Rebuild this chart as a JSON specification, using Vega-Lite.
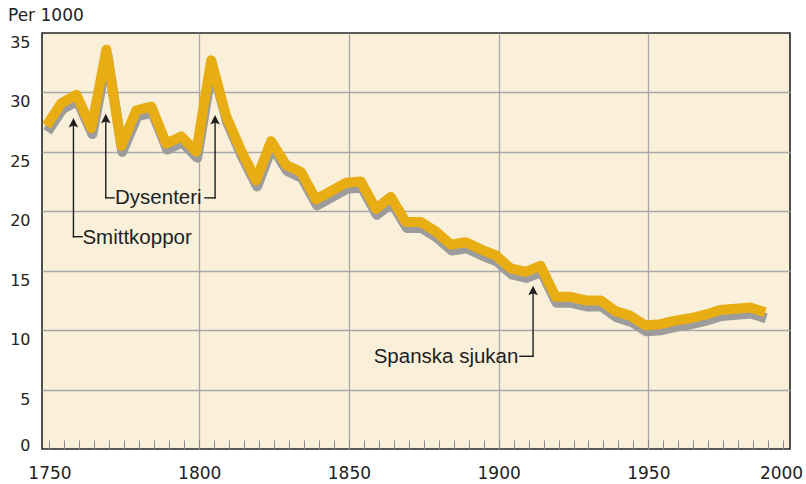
{
  "$schema": "https://vega.github.io/schema/vega-lite/v6.json",
  "width": 748,
  "height": 416,
  "autosize": {"type": "none"},
  "padding": {"left": 42, "top": 33, "right": 16, "bottom": 35},
  "background": "#ffffff",
  "config": {
    "view": {"fill": "#FAF0DA", "stroke": "#262626", "strokeWidth": 1.6},
    "axis": {"domain": false, "labelFont": "DejaVu Sans", "labelColor": "#222222", "gridColor": "#A8A8A8", "gridWidth": 1.3}
  },
  "datasets": {
    "rate": [
      {"year": 1749, "rate": 27.2}, {"year": 1754, "rate": 29.1}, {"year": 1759, "rate": 29.8},
      {"year": 1764, "rate": 27.0}, {"year": 1769, "rate": 33.6}, {"year": 1774, "rate": 25.5},
      {"year": 1779, "rate": 28.5}, {"year": 1784, "rate": 28.8}, {"year": 1789, "rate": 25.7},
      {"year": 1794, "rate": 26.3}, {"year": 1799, "rate": 25.0}, {"year": 1804, "rate": 32.7},
      {"year": 1809, "rate": 28.0}, {"year": 1814, "rate": 25.1}, {"year": 1819, "rate": 22.6},
      {"year": 1824, "rate": 25.9}, {"year": 1829, "rate": 23.9}, {"year": 1834, "rate": 23.3},
      {"year": 1839, "rate": 21.0}, {"year": 1844, "rate": 21.7}, {"year": 1849, "rate": 22.4},
      {"year": 1854, "rate": 22.5}, {"year": 1859, "rate": 20.2}, {"year": 1864, "rate": 21.2},
      {"year": 1869, "rate": 19.1}, {"year": 1874, "rate": 19.1}, {"year": 1879, "rate": 18.3},
      {"year": 1884, "rate": 17.2}, {"year": 1889, "rate": 17.4}, {"year": 1894, "rate": 16.8},
      {"year": 1899, "rate": 16.3}, {"year": 1904, "rate": 15.2}, {"year": 1909, "rate": 14.9},
      {"year": 1914, "rate": 15.4}, {"year": 1919, "rate": 12.8}, {"year": 1924, "rate": 12.8},
      {"year": 1929, "rate": 12.5}, {"year": 1934, "rate": 12.5}, {"year": 1939, "rate": 11.6},
      {"year": 1944, "rate": 11.2}, {"year": 1949, "rate": 10.4}, {"year": 1954, "rate": 10.5},
      {"year": 1959, "rate": 10.8}, {"year": 1964, "rate": 11.0}, {"year": 1969, "rate": 11.3},
      {"year": 1974, "rate": 11.7}, {"year": 1979, "rate": 11.8}, {"year": 1984, "rate": 11.9},
      {"year": 1989, "rate": 11.5}
    ],
    "segments": [
      {"year": 1758.0, "year2": 1758.0, "rate": 17.86, "rate2": 27.3},
      {"year": 1758.0, "year2": 1760.9, "rate": 17.86, "rate2": 17.86},
      {"year": 1768.8, "year2": 1768.8, "rate": 21.13, "rate2": 27.6},
      {"year": 1768.8, "year2": 1771.6, "rate": 21.13, "rate2": 21.13},
      {"year": 1801.9, "year2": 1805.3, "rate": 21.13, "rate2": 21.13},
      {"year": 1805.3, "year2": 1805.3, "rate": 21.13, "rate2": 27.5},
      {"year": 1907.1, "year2": 1911.5, "rate": 7.8, "rate2": 7.8},
      {"year": 1911.5, "year2": 1911.5, "rate": 7.8, "rate2": 13.2}
    ],
    "arrows": [
      {"year": 1758.0, "rate": 27.85},
      {"year": 1768.8, "rate": 28.2},
      {"year": 1805.3, "rate": 28.1},
      {"year": 1911.5, "rate": 13.74}
    ],
    "labelsLeft": [
      {"year": 1761.0, "rate": 17.27, "text": "Smittkoppor"},
      {"year": 1771.9, "rate": 20.63, "text": "Dysenteri"}
    ],
    "labelsRight": [
      {"year": 1906.6, "rate": 7.24, "text": "Spanska sjukan"}
    ]
  },
  "encoding": {
    "x": {
      "field": "year", "type": "quantitative",
      "scale": {"domain": [1747.5, 1997.3], "nice": false, "zero": false},
      "axis": {
        "values": [1750,1755,1760,1765,1770,1775,1780,1785,1790,1795,1800,1805,1810,1815,1820,1825,1830,1835,1840,1845,1850,1855,1860,1865,1870,1875,1880,1885,1890,1895,1900,1905,1910,1915,1920,1925,1930,1935,1940,1945,1950,1955,1960,1965,1970,1975,1980,1985,1990,1994.3,1995],
        "tickCount": 200,
        "format": "d",
        "labelExpr": "(datum.value > 1994 && datum.value < 1994.5) ? '2000' : (datum.value % 50 == 0 ? datum.label : '')",
        "ticks": true,
        "tickSize": -9,
        "tickColor": "#8A8A8A",
        "tickWidth": 1,
        "tickOpacity": {"condition": {"test": "datum.value % 5 != 0", "value": 0}, "value": 1},
        "grid": true,
        "gridOpacity": {"condition": {"test": "datum.value % 50 == 0 && datum.value > 1760 && datum.value < 1990", "value": 1}, "value": 0},
        "labelFontSize": 17,
        "labelBaseline": "alphabetic",
        "labelPadding": 38,
        "labelFlush": false,
        "labelOverlap": false,
        "title": null
      }
    },
    "y": {
      "field": "rate", "type": "quantitative",
      "scale": {"domain": [0, 35], "nice": false, "zero": true},
      "axis": {
        "values": [0, 5, 10, 15, 20, 25, 30, 35],
        "ticks": false,
        "grid": true,
        "gridOpacity": {"condition": {"test": "datum.value == 0 || datum.value == 35", "value": 0}, "value": 1},
        "labelFontSize": 16,
        "labelAlign": "right",
        "labelBaseline": {"condition": {"test": "datum.value == 0", "value": "alphabetic"}, "value": "top"},
        "labelPadding": 12,
        "labelOverlap": false,
        "labelOffset": 1.5,
        "title": "Per 1000",
        "titleAngle": 0,
        "titleAlign": "left",
        "titleBaseline": "alphabetic",
        "titleX": -34.5,
        "titleY": -13,
        "titleFont": "DejaVu Sans",
        "titleFontSize": 17,
        "titleFontWeight": "normal",
        "titleColor": "#222222"
      }
    }
  },
  "layer": [
    {
      "data": {"name": "rate"},
      "mark": {"type": "line", "color": "#9C9C9C", "strokeWidth": 10, "strokeJoin": "round", "xOffset": 1, "yOffset": 6}
    },
    {
      "data": {"name": "rate"},
      "mark": {"type": "line", "color": "#E8AD12", "strokeWidth": 10, "strokeJoin": "round"}
    },
    {
      "data": {"name": "segments"},
      "mark": {"type": "rule", "color": "#1E1E1E", "strokeWidth": 1.4, "strokeCap": "square"},
      "encoding": {
        "x2": {"field": "year2"},
        "y2": {"field": "rate2"}
      }
    },
    {
      "data": {"name": "arrows"},
      "mark": {"type": "point", "shape": "M0,0L1,2L0,1.6L-1,2Z", "size": 90, "filled": true, "color": "#1E1E1E", "opacity": 1}
    },
    {
      "data": {"name": "labelsLeft"},
      "mark": {"type": "text", "align": "left", "baseline": "alphabetic", "font": "Liberation Sans", "fontSize": 20.5, "color": "#1E1E1E"},
      "encoding": {"text": {"field": "text"}}
    },
    {
      "data": {"name": "labelsRight"},
      "mark": {"type": "text", "align": "right", "baseline": "alphabetic", "font": "Liberation Sans", "fontSize": 20.5, "color": "#1E1E1E"},
      "encoding": {"text": {"field": "text"}}
    }
  ]
}
